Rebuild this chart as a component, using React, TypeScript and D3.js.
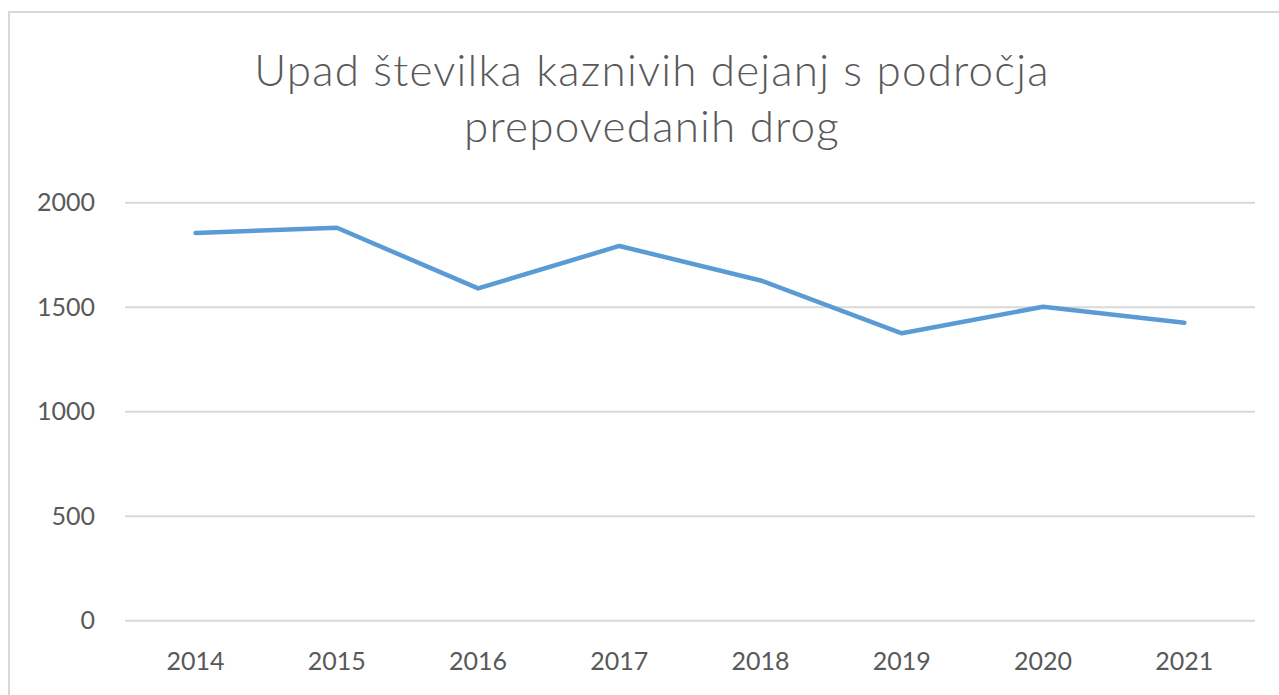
import React, { useEffect, useRef } from "react";
import * as d3 from "d3";

const categories: string[] = ["2014", "2015", "2016", "2017", "2018", "2019", "2020", "2021"];
const values: number[] = [1855, 1880, 1590, 1793, 1628, 1375, 1502, 1426];
const yTicks: number[] = [0, 500, 1000, 1500, 2000];
const titleLines: string[] = ["Upad številka kaznivih dejanj s področja", "prepovedanih drog"];

const W = 1279;
const H = 695;
const FONT = "Lato, 'Open Sans', 'Noto Sans', sans-serif";
const TEXT = "#595959";

export default function App() {
  const ref = useRef<SVGSVGElement | null>(null);

  useEffect(() => {
    const svg = d3.select(ref.current);
    svg.selectAll("*").remove();

    const left = 125, right = 1255, top = 202.7, bottom = 620.7;

    svg.append("rect").attr("x", 0).attr("y", 0).attr("width", W).attr("height", H).attr("fill", "#ffffff");
    svg.append("rect")
      .attr("x", 9).attr("y", 12).attr("width", W + 20).attr("height", H + 20)
      .attr("fill", "#ffffff").attr("stroke", "#d9d9d9").attr("stroke-width", 2);

    const x = d3.scaleBand<string>().domain(categories).range([left, right]);
    const y = d3.scaleLinear().domain([0, 2000]).range([bottom, top]);

    // title
    svg.append("g").selectAll("text").data(titleLines).join("text")
      .attr("x", 652).attr("y", (_d, i) => 86 + i * 56)
      .attr("text-anchor", "middle")
      .attr("font-family", FONT).attr("font-weight", 300)
      .attr("font-size", 44).attr("letter-spacing", 1.2).attr("fill", TEXT)
      .text(d => d);

    // gridlines
    svg.append("g").selectAll("line").data(yTicks).join("line")
      .attr("x1", left).attr("x2", right)
      .attr("y1", d => y(d)).attr("y2", d => y(d))
      .attr("stroke", "#d9d9d9").attr("stroke-width", 2);

    // y labels
    svg.append("g").selectAll("text").data(yTicks).join("text")
      .attr("x", 95).attr("y", d => y(d))
      .attr("dy", "0.35em").attr("text-anchor", "end")
      .attr("font-family", FONT).attr("font-size", 25).attr("fill", TEXT)
      .text(d => String(d));

    // x labels
    svg.append("g").selectAll("text").data(categories).join("text")
      .attr("x", d => (x(d) as number) + x.bandwidth() / 2).attr("y", 661)
      .attr("dy", "0.35em").attr("text-anchor", "middle")
      .attr("font-family", FONT).attr("font-size", 25).attr("fill", TEXT)
      .text(d => d);

    const line = d3.line<number>()
      .x((_d, i) => (x(categories[i]) as number) + x.bandwidth() / 2)
      .y(d => y(d));

    svg.append("path").datum(values)
      .attr("d", line)
      .attr("fill", "none").attr("stroke", "#5b9bd5")
      .attr("stroke-width", 4.5).attr("stroke-linejoin", "round").attr("stroke-linecap", "round");
  }, []);

  return (
    <svg ref={ref} width={W} height={H}
      style={{ position: "absolute", left: 0, top: 0, display: "block" }} />
  );
}
